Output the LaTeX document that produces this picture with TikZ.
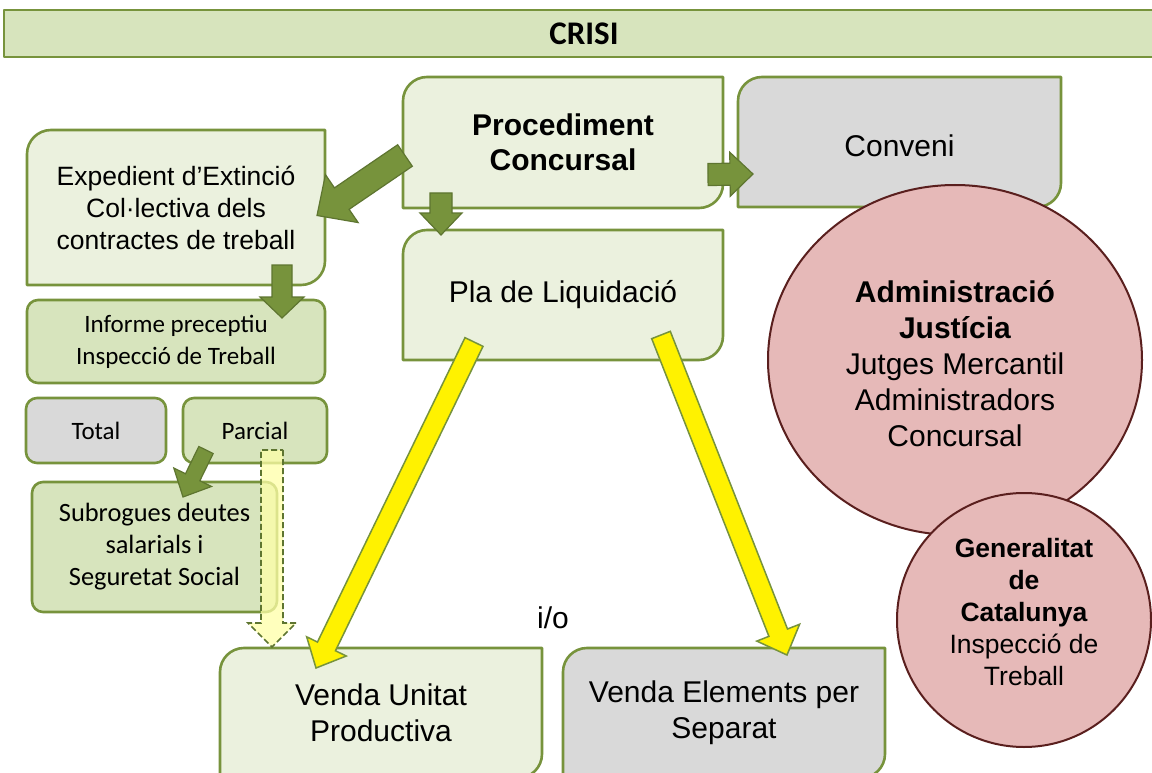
\documentclass[tikz,border=0pt]{standalone}
\usepackage{fontspec}
\setmainfont{Liberation Sans}
\newfontfamily\calibri{Carlito}
\usetikzlibrary{calc,shapes.geometric}
\pgfdeclarelayer{bg}
\pgfsetlayers{bg,main}

\definecolor{olivedraw}{HTML}{77933C}
\definecolor{arrowedge}{HTML}{5E7530}
\definecolor{boxlight}{HTML}{EBF1DE}
\definecolor{boxmid}{HTML}{D7E4BD}
\definecolor{boxgray}{HTML}{D9D9D9}
\definecolor{rosefill}{HTML}{E6B9B8}
\definecolor{rosedraw}{HTML}{5A1F1E}
\definecolor{paleyellow}{HTML}{FFFFA8}

\tikzset{
  panel/.style={anchor=north west, outer sep=0pt, inner sep=2pt, align=center},
  frame/.style={draw=olivedraw, line width=2.6pt, line join=round},
  arialtxt/.style={font=\fontsize{30}{36}\selectfont},
  pill/.style={panel, frame, rounded corners=11pt, font=\calibri\fontsize{25}{32}\selectfont},
  blob/.style={draw=rosedraw, line width=2pt, fill=rosefill, inner sep=0pt, align=center},
  greenarrow/.style={fill=olivedraw, draw=arrowedge, line width=1.2pt},
  yellowarrow/.style={fill=yellow, draw=olivedraw, line width=1.5pt},
  dasharrow/.style={fill=paleyellow, fill opacity=0.75, draw=arrowedge, line width=1.6pt, dash pattern=on 6pt off 3pt}
}

% box with top left and bottom right corners rounded
\newcommand{\cutbox}[2]{%
  \begin{pgfonlayer}{bg}
    \draw[frame,#1] (#2.west) [rounded corners=24pt] -- (#2.north west) -- (#2.north)
      [sharp corners] -- (#2.north east) -- (#2.east)
      [rounded corners=24pt] -- (#2.south east) -- (#2.south)
      [sharp corners] -- (#2.south west) -- cycle;
  \end{pgfonlayer}}

% block arrow: style, tail, tip, half shaft, half head, head length
\newcommand{\blockarrow}[6]{%
  \coordinate (hb) at ($(#3)!#6!(#2)$);
  \draw[#1] ($(#2)!#4!90:(#3)$) -- ($(hb)!#4!90:(#3)$) -- ($(hb)!#5!90:(#3)$) -- (#3)
    -- ($(hb)!#5!-90:(#3)$) -- ($(hb)!#4!-90:(#3)$) -- ($(#2)!#4!-90:(#3)$) -- cycle;}

\begin{document}
\begin{tikzpicture}[x=1pt,y=-1pt]
\useasboundingbox (0,0) rectangle (1152,773);
\begin{pgfonlayer}{bg}
  \fill[white] (0,0) rectangle (1152,773);
\end{pgfonlayer}

% top bar
\node[panel, frame, fill=boxmid, minimum width=1160pt, minimum height=47pt, font=\calibri\bfseries\fontsize{33}{36}\selectfont] (crisi) at (4,10) {CRISI};

% boxes
\node[panel, minimum width=320pt, minimum height=131pt, font=\bfseries\fontsize{30}{35}\selectfont] (proc) at (403,77) {Procediment\\Concursal};
\cutbox{fill=boxlight}{proc}
\node[panel, arialtxt, minimum width=323pt, minimum height=130pt, text height=29pt, text depth=0pt] (conv) at (738,77) {Conveni};
\cutbox{fill=boxgray}{conv}
\node[panel, minimum width=298pt, minimum height=155pt, font=\fontsize{26.5}{32}\selectfont] (exp) at (27,130) {Expedient d’Extinció\\Col·lectiva dels\\contractes de treball};
\cutbox{fill=boxlight}{exp}
\node[panel, arialtxt, minimum width=320pt, minimum height=130pt] (pla) at (403,230) {Pla de Liquidació};
\cutbox{fill=boxlight}{pla}
\node[panel, arialtxt, minimum width=322pt, minimum height=130pt] (vu) at (220,648) {Venda Unitat\\Productiva};
\cutbox{fill=boxlight}{vu}
\node[panel, arialtxt, minimum width=322pt, minimum height=130pt] (ve) at (563,648) {Venda Elements per\\Separat};
\cutbox{fill=boxgray}{ve}

\node[pill, fill=boxmid, minimum width=298pt, minimum height=83pt] (inf) at (27,300) {Informe preceptiu\\Inspecció de Treball};
\node[pill, fill=boxgray, minimum width=140pt, minimum height=65pt] (tot) at (26,398) {Total};
\node[pill, fill=boxmid, minimum width=144pt, minimum height=65pt] (parc) at (183,398) {Parcial};
\node[pill, fill=boxmid, minimum width=245pt, minimum height=130pt, font=\calibri\fontsize{26.4}{32}\selectfont] (sub) at (32,482) {Subrogues deutes\\salarials i\\Seguretat Social};

\node[font=\fontsize{30}{36}\selectfont] (io) at (553,618) {i/o};

% circles
\node[blob, ellipse, minimum width=374pt, minimum height=350pt] (adm) at (955,360) {};
\node[align=center, font=\fontsize{30}{36}\selectfont] (admtext) at ($(adm.center)+(0,4)$) {\textbf{Administració}\\\textbf{Justícia}\\Jutges Mercantil\\Administradors\\Concursal};
\node[blob, circle, minimum size=254pt] (gen) at (1024,620) {};
\node[align=center, font=\fontsize{26.5}{32}\selectfont] (gentext) at ($(gen.center)+(0,-8)$) {\textbf{Generalitat}\\\textbf{de}\\\textbf{Catalunya}\\Inspecció de\\Treball};

% green arrows
\coordinate (a1) at ($(proc.west)+(2,13)$);
\coordinate (b1) at ($(exp.east)+(-8,8)$);
\blockarrow{greenarrow}{a1}{b1}{13pt}{29pt}{30pt}
\coordinate (a2) at ($(proc.south west)+(38,-15)$);
\coordinate (b2) at ($(pla.north west)+(38,5)$);
\blockarrow{greenarrow}{a2}{b2}{11pt}{21pt}{22pt}
\coordinate (a3) at ($(proc.east)+(-15,32)$);
\coordinate (b3) at ($(conv.west)+(15,32)$);
\blockarrow{greenarrow}{a3}{b3}{11pt}{22pt}{23pt}
\coordinate (a4) at ($(exp.south east)+(-43,-20)$);
\coordinate (b4) at ($(inf.north east)+(-43,18)$);
\blockarrow{greenarrow}{a4}{b4}{10pt}{22pt}{21pt}
\coordinate (a5) at ($(parc.south west)+(23,-13)$);
\coordinate (b5) at ($(sub.north west)+(151,15)$);
\blockarrow{greenarrow}{a5}{b5}{8pt}{21pt}{22pt}

% yellow arrows
\coordinate (a6) at ($(pla.south west)+(71,-18)$);
\coordinate (b6) at ($(vu.north west)+(96,20)$);
\blockarrow{yellowarrow}{a6}{b6}{10pt}{22pt}{24pt}
\coordinate (a7) at ($(pla.south east)+(-62,-25)$);
\coordinate (b7) at ($(ve.north west)+(224,7)$);
\blockarrow{yellowarrow}{a7}{b7}{10pt}{23pt}{24pt}
\coordinate (a8) at ($(parc.south west)+(89,-13)$);
\coordinate (b8) at ($(vu.north west)+(52,-1)$);
\blockarrow{dasharrow}{a8}{b8}{11pt}{24pt}{24pt}
\end{tikzpicture}
\end{document}
